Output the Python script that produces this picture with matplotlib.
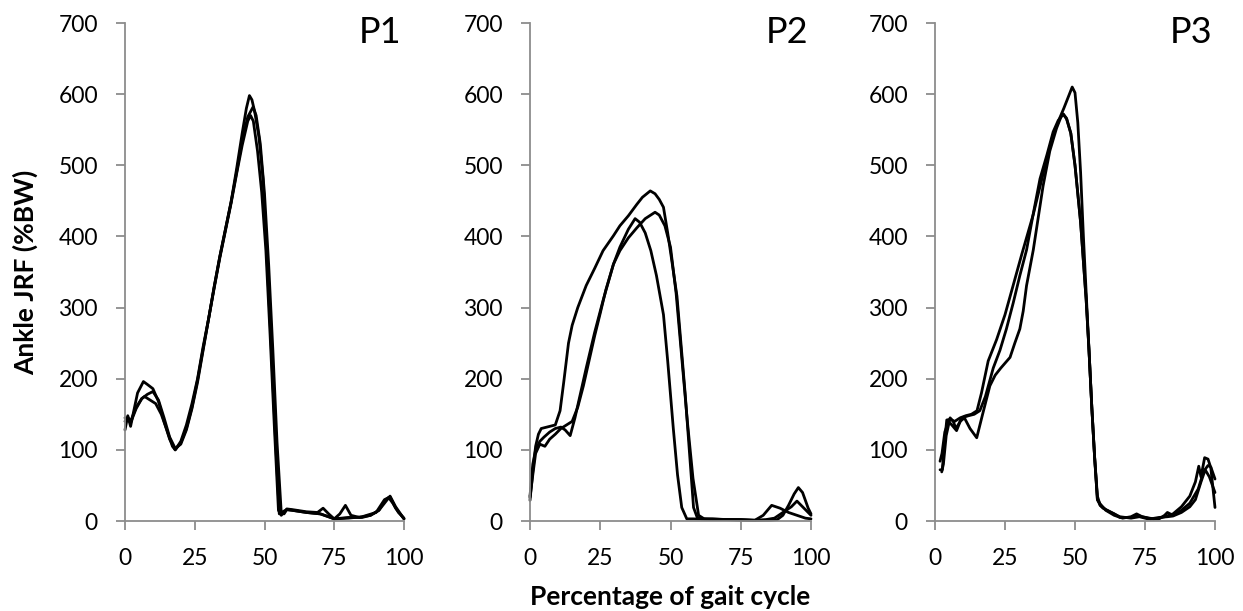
import matplotlib
matplotlib.use("Agg")
import matplotlib.pyplot as plt

plt.rcParams['font.family'] = ['Lato', 'DejaVu Sans']

# ---------------- data ----------------
panel_names = ["P1", "P2", "P3"]
x_ticks = [0, 25, 50, 75, 100]
y_ticks = [0, 100, 200, 300, 400, 500, 600, 700]

# P1
p1_a_x = [0,1,2,3,4.5,6.6,8,10,12,14,16,18,20,22,24,26,28,30,32,34,36,38,40,42,43.5,44.6,45.5,46.5,48,49.5,51,52,53,54,55.3,56,58,60,65,70,73,75,77,79,81,84,88,91,93,95,97,100]
p1_a_y = [128,148,133,152,180,196,192,186,168,140,115,100,112,135,165,200,245,285,330,372,410,448,495,545,580,598,592,575,540,480,360,280,195,110,10,12,16,15,12,10,6,3,10,22,8,5,8,15,25,35,20,3]
p1_b_x = [0,1,2,4,6,8,10,12,14,16,18,20,22,24,26,28,30,32,34,36,38,40,42,44,45.9,47,48.5,50,51.5,53,54.5,56,57,58,60,65,70,75,80,85,88,91,93,94.5,96,98,100]
p1_b_y = [140,146,140,160,172,178,182,170,145,118,102,108,128,158,195,240,285,330,372,410,448,490,535,568,582,570,530,460,360,240,110,12,10,16,15,12,10,3,5,5,8,15,28,33,25,12,4]
p1_c_x = [0,1,2,4,6,7,9,11,13,15,17,18,20,22,24,26,28,30,32,34,36,38,40,42,44,45,46,47.5,49,50.5,52,53.5,55,56,57,58,60,65,69,71,73,75,80,85,90,93,95,97,100]
p1_c_y = [145,143,138,158,172,175,170,165,150,128,105,100,110,130,160,198,242,285,328,370,408,446,488,528,562,570,562,520,462,380,262,135,15,8,12,17,16,13,12,18,10,3,4,6,12,30,34,18,3]

# P2
p2_a_x = [0,1,2,3,4,6,9,10.7,12,13.7,15,17,20,23,26,29.7,32,35,38,40,42.8,44.5,46,47.5,49,50.5,52.3,53.5,55.2,56.5,58.2,59.5,61,65,70,75,80,83,86,89,92,95,98,100]
p2_a_y = [29,70,105,122,130,132,135,155,195,250,275,300,331,355,380,401,415,429,445,455,464,460,452,441,405,365,316,260,180,110,19,5,3,3,2,2,1,8,22,18,12,8,4,3]
p2_b_x = [0,1,2,3.5,5.3,7,9,11,13,15,17,19,21,23,25,27,29.7,32,35,37.4,39,41,43,45,47.5,49,51,52.5,54,55.8,58,65,70,75,80,84,87,90,93,95,97,100]
p2_b_y = [33,65,95,108,105,115,122,130,135,140,160,190,225,260,292,325,361,385,410,425,420,405,380,345,290,225,130,65,19,3,3,2,2,1,1,2,4,12,20,28,20,8]
p2_c_x = [0,1,2,3.5,5,7,9,11,12.5,14.3,16,18,20,23,26,29.7,32,35,38,41,44.5,46,48,50,52,54,56,58,60,62,70,75,80,85,88,90,92,94,95.5,97,99,100]
p2_c_y = [35,80,100,112,118,125,130,132,128,120,145,180,215,265,310,361,380,398,412,425,434,430,415,385,320,230,140,60,8,3,2,2,1,1,2,8,22,38,47,40,18,10]

# P3
p3_a_x = [1.8,2.6,3.4,4.2,5.5,7,9,11,13,15,16.6,19,22,25,27.9,31,35.1,37.5,39.8,42,44.6,46,47.5,49,50,51,52,53,54,55,56,57,58,59,60,62,64,66,70,72,74,78,80,82,85,88,91,93,94.2,95,96.3,97.5,98.5,100]
p3_a_y = [72,72,110,142,143,140,145,148,150,155,180,225,255,290,331,375,431,470,507,540,567,580,595,610,602,560,490,400,320,240,160,90,35,22,18,14,10,5,5,8,6,3,4,6,10,20,35,55,77,62,89,87,75,19]
p3_b_x = [1.8,2.5,3.5,4.8,6,7.7,9.5,12,14,16,18,20.8,23.2,25.5,27.9,30.3,32.7,35,37.5,40,42.2,44,45.8,47,48.5,50,52,54,55,56,57,58,59,61,63,66,70,73,76,80,82,83,85,88,91,94,96,97.5,98.5,100]
p3_b_y = [84,95,125,140,135,127,145,148,150,155,175,215,240,270,306,345,381,430,481,515,547,563,572,565,545,500,420,310,240,160,90,30,22,16,12,6,4,6,3,3,8,12,8,15,25,45,70,78,76,59]
p3_c_x = [2.4,3,4,5.4,6.5,7.5,9,10.5,12.5,14.9,17,19.6,21.5,23.5,26.8,28.5,30.3,31.5,32.7,35.1,38.6,41,43.4,45,45.8,47,48.5,50,52,54,55,56,57,58,59,61,64,67,70,72,74,77,80,83,85,88,91,93,95,96.5,98,100]
p3_c_y = [69,80,120,145,140,130,140,145,130,117,150,190,205,215,230,250,270,295,331,381,471,520,552,568,572,566,545,500,420,310,240,160,90,30,24,15,8,4,6,10,6,3,5,6,7,12,20,30,55,72,62,40]

panels = [
    [(p1_a_x, p1_a_y), (p1_b_x, p1_b_y), (p1_c_x, p1_c_y)],
    [(p2_a_x, p2_a_y), (p2_b_x, p2_b_y), (p2_c_x, p2_c_y)],
    [(p3_a_x, p3_a_y), (p3_b_x, p3_b_y), (p3_c_x, p3_c_y)],
]

# ---------------- figure ----------------
W, H = 1243, 611
fig = plt.figure(figsize=(W / 100, H / 100), dpi=100)

lefts = [125, 530, 935]
rights = [404, 811, 1215]
top_px, bot_px = 23, 521
grey = '#8c8c8c'

for i, (name, curves) in enumerate(zip(panel_names, panels)):
    ax = fig.add_axes([lefts[i] / W, 1 - bot_px / H,
                       (rights[i] - lefts[i]) / W, (bot_px - top_px) / H])
    for cx, cy in curves:
        ax.plot(cx, cy, color='black', lw=2.0, solid_joinstyle='round',
                solid_capstyle='round', clip_on=False)
    ax.set_xlim(0, 100)
    ax.set_ylim(0, 700)
    ax.set_xticks(x_ticks)
    ax.set_yticks(y_ticks)
    for s in ['top', 'right']:
        ax.spines[s].set_visible(False)
    for s in ['left', 'bottom']:
        ax.spines[s].set_color(grey)
        ax.spines[s].set_linewidth(1.3)
    ax.tick_params(axis='both', direction='out', length=6.5, width=1.3,
                   color=grey, labelsize=16.5, labelcolor='black', pad=13)
    ax.set_facecolor('none')
    ax.text(99, 686, name, ha='right', va='center', fontsize=26, color='black')

fig.text(25 / W, 1 - 272 / H, 'Ankle JRF (%BW)', rotation=90, ha='center',
         va='center', fontsize=19, fontweight='bold')
fig.text(670 / W, 1 - 597 / H, 'Percentage of gait cycle', ha='center',
         va='center', fontsize=19, fontweight='bold')

fig.savefig('out.png', dpi=100)
